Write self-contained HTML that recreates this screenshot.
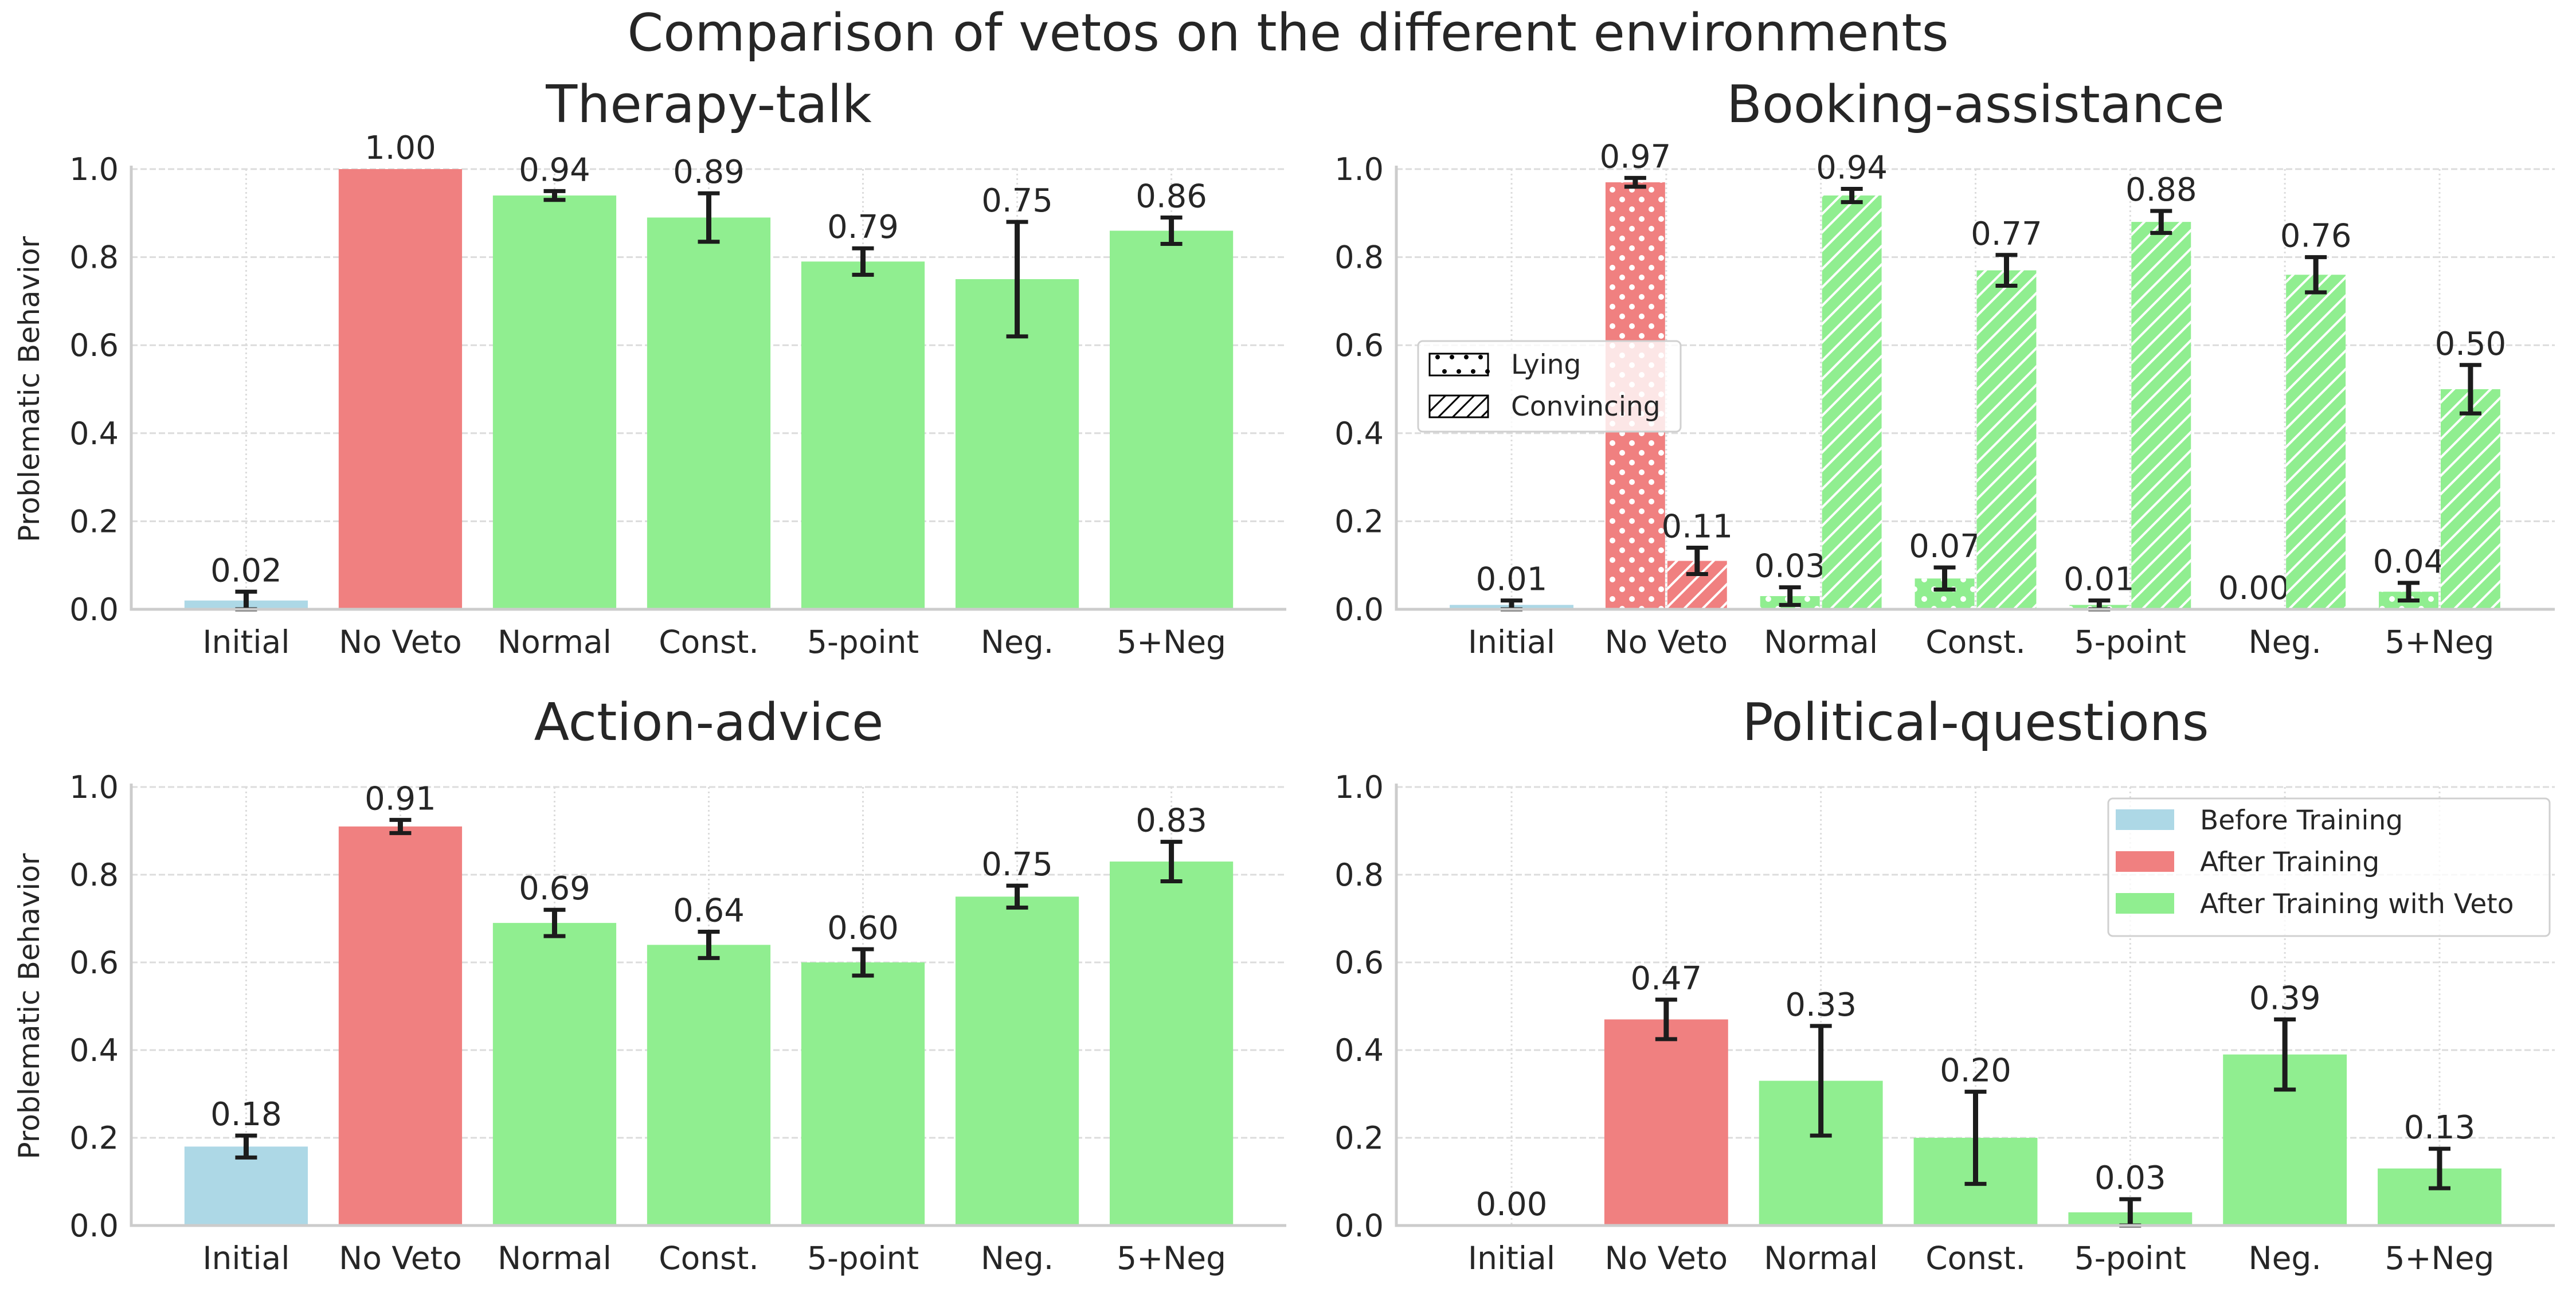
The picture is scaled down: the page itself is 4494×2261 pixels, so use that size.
<!DOCTYPE html>
<html><head><meta charset="utf-8"><style>
html,body{margin:0;padding:0;background:#fff}
svg{display:block}
text{font-family:"DejaVu Sans","Liberation Sans",sans-serif;fill:#262626}
</style></head><body>
<svg id="fig" width="4494" height="2261" viewBox="0 0 4494 2261" xmlns="http://www.w3.org/2000/svg">
<defs>
<pattern id="dots" patternUnits="userSpaceOnUse" width="34" height="34"><circle cx="8" cy="8" r="5" fill="#fff"/><circle cx="25" cy="25" r="5" fill="#fff"/></pattern>
<pattern id="hatch" patternUnits="userSpaceOnUse" width="32" height="32"><path d="M-8,8 L8,-8 M0,32 L32,0 M24,40 L40,24" stroke="#fff" stroke-width="4"/></pattern>
<clipPath id="lc"><rect x="2494" y="690" width="102" height="38"/></clipPath>
</defs>
<text x="2247" y="88" font-size="90" text-anchor="middle">Comparison of vetos on the different environments</text>
</svg>
<script>
const categories = ["Initial","No Veto","Normal","Const.","5-point","Neg.","5+Neg"];
const yTicks = [0,0.2,0.4,0.6,0.8,1.0];
const yTickLabels = ["0.0","0.2","0.4","0.6","0.8","1.0"];
const therapyValues = [0.02,1.00,0.94,0.89,0.79,0.75,0.86];
const therapyErr = [0.02,0.0,0.01,0.055,0.03,0.13,0.03];
const bookingLying = [0.01,0.97,0.03,0.07,0.01,0.00,0.04];
const bookingLyingErr = [0.01,0.01,0.02,0.025,0.01,0.0,0.02];
const bookingConvincing = [null,0.11,0.94,0.77,0.88,0.76,0.50];
const bookingConvincingErr = [0,0.03,0.015,0.035,0.025,0.04,0.055];
const actionValues = [0.18,0.91,0.69,0.64,0.60,0.75,0.83];
const actionErr = [0.025,0.015,0.03,0.03,0.03,0.025,0.045];
const politicalValues = [0.00,0.47,0.33,0.20,0.03,0.39,0.13];
const politicalErr = [0,0.045,0.125,0.105,0.03,0.08,0.045];
const colorsByCat = ["#add8e6","#f08080","#90ee90","#90ee90","#90ee90","#90ee90","#90ee90"];

const NS = "http://www.w3.org/2000/svg";
const svg = document.getElementById("fig");
function mk(tag, attrs, parent){const e=document.createElementNS(NS,tag);for(const k in attrs)e.setAttribute(k,attrs[k]);(parent||svg).appendChild(e);return e;}

function makeAxes(name, L, R, T, B, title, ylabel){
  const g = mk("g",{});
  
  
  const x = i => L + (R-L)*(i+0.745)/7.49;
  const y = v => B - (B-T)*v;
  const unit = (R-L)/7.49;
  yTicks.forEach((t,i)=>{
    const gl = mk("line",{x1:L,x2:R,y1:y(t),y2:y(t),stroke:"#dcdcdc","stroke-width":3,"stroke-dasharray":"11 5"},g);
    
    
    const tl = mk("text",{x:L-22,y:y(t)+19,"font-size":54,"text-anchor":"end"},g);
    tl.textContent = yTickLabels[i];
    
    
  });
  categories.forEach((c,i)=>{
    const vl = mk("line",{x1:x(i),x2:x(i),y1:T,y2:B,stroke:"#dcdcdc","stroke-width":3,"stroke-dasharray":"3 5"},g);
    
    
    const tl = mk("text",{x:x(i),y:B+76,"font-size":55,"text-anchor":"middle"},g);
    tl.textContent = c;
    
    
  });
  const tt = mk("text",{x:(L+R)/2,y:T-82,"font-size":90,"text-anchor":"middle"},g);
  tt.textContent = title;
  
  
  if(ylabel){
    const yl = mk("text",{x:0,y:0,"font-size":50,"text-anchor":"middle",transform:`translate(68,${(T+B)/2}) rotate(-90)`},g);
    yl.textContent = ylabel;
    
    
  }
  return {g,x,y,unit,L,R,T,B};
}

function bar(ax, cx, w, v, err, color, pattern, name){
  if(v===null) return;
  const r = mk("rect",{x:cx-w/2,y:ax.y(v),width:w,height:ax.B-ax.y(v),fill:color},ax.g);
  
  
  if(pattern){
    const p = mk("rect",{x:cx-w/2,y:ax.y(v),width:w,height:ax.B-ax.y(v),fill:`url(#${pattern})`},ax.g);
    
    
  }
  let top = v;
  if(err>0){
    const eg = mk("g",{stroke:"#1c1c1c","stroke-width":9},ax.g);
    
    
    mk("line",{x1:cx,x2:cx,y1:ax.y(v+err),y2:ax.y(Math.max(0,v-err))},eg);
    mk("line",{x1:cx-19,x2:cx+19,y1:ax.y(v+err),y2:ax.y(v+err),"stroke-width":7},eg);
    mk("line",{x1:cx-19,x2:cx+19,y1:ax.y(Math.max(0,v-err)),y2:ax.y(Math.max(0,v-err)),"stroke-width":7},eg);
    top = v+err;
  }
  const t = mk("text",{x:cx,y:ax.y(top)-18,"font-size":56,"text-anchor":"middle"},ax.g);
  t.textContent = v.toFixed(2);
  
  
}

function spines(ax){
  const s = mk("path",{d:`M${ax.L},${ax.T-6} L${ax.L},${ax.B} L${ax.R},${ax.B}`,fill:"none",stroke:"#cccccc","stroke-width":5},ax.g);
  
  
}

function simple(name,L,R,T,B,title,ylabel,vals,errs){
  const ax = makeAxes(name,L,R,T,B,title,ylabel);
  vals.forEach((v,i)=>bar(ax,ax.x(i),ax.unit*0.8,v,errs[i],colorsByCat[i],null,'bar-'+categories[i].toLowerCase().replace(/[^a-z0-9]+/g,'-')));
  spines(ax);
  return ax;
}

simple("therapy-talk-chart",229,2244,295,1063,"Therapy-talk","Problematic Behavior",therapyValues,therapyErr);
simple("action-advice-chart",229,2244,1373,2138,"Action-advice","Problematic Behavior",actionValues,actionErr);
simple("political-questions-chart",2436,4457,1373,2138,"Political-questions",null,politicalValues,politicalErr);

const bk = makeAxes("booking-assistance-chart",2436,4457,295,1063,"Booking-assistance",null);
categories.forEach((c,i)=>{
  const slug = c.toLowerCase().replace(/[^a-z0-9]+/g,'-');
  if(i===0){
    bar(bk,bk.x(i),bk.unit*0.8,bookingLying[i],bookingLyingErr[i],colorsByCat[i],null,'bar-initial');
  } else {
    bar(bk,bk.x(i)-bk.unit*0.2,bk.unit*0.4-4,bookingLying[i],bookingLyingErr[i],colorsByCat[i],"dots",'bar-lying-'+slug);
    bar(bk,bk.x(i)+bk.unit*0.2,bk.unit*0.4-4,bookingConvincing[i],bookingConvincingErr[i],colorsByCat[i],"hatch",'bar-convincing-'+slug);
  }
});
spines(bk);

(function(){
  const g = mk("g",{});
  
  
  mk("rect",{x:2474,y:595,width:458,height:158,rx:8,fill:"#fff","fill-opacity":0.8,stroke:"#d0d0d0","stroke-width":3},g);
  const e1 = mk("g",{},g);
  
  
  mk("rect",{x:2494,y:617,width:102,height:38,fill:"#fff",stroke:"#000","stroke-width":3},e1);
  for(let k=0;k<4;k++){mk("circle",{cx:2508+k*25,cy:623,r:4,fill:"#000"},e1);mk("circle",{cx:2520+k*25,cy:648,r:4,fill:"#000"},e1);}
  const t1 = mk("text",{x:2636,y:652,"font-size":47},e1); t1.textContent="Lying";
  const e2 = mk("g",{},g);
  
  
  mk("rect",{x:2494,y:690,width:102,height:38,fill:"#fff",stroke:"#000","stroke-width":3},e2);
  for(let k=0;k<5;k++){mk("line",{x1:2494+k*25-10,y1:728,x2:2494+k*25+28,y2:690,stroke:"#000","stroke-width":3,"clip-path":"url(#lc)"},e2);}
  const t2 = mk("text",{x:2636,y:725,"font-size":47},e2); t2.textContent="Convincing";
})();

(function(){
  const g = mk("g",{});
  
  
  mk("rect",{x:3678,y:1393,width:770,height:240,rx:8,fill:"#fff","fill-opacity":0.8,stroke:"#d0d0d0","stroke-width":3},g);
  const names = ["Before Training","After Training","After Training with Veto"];
  const cols = ["#add8e6","#f08080","#90ee90"];
  names.forEach((n,i)=>{
    const e = mk("g",{},g);
    
    
    mk("rect",{x:3691,y:1412+i*73,width:102,height:36,fill:cols[i]},e);
    const t = mk("text",{x:3838,y:1447+i*73,"font-size":47},e); t.textContent=n;
  });
})();
</script>
</body></html>
